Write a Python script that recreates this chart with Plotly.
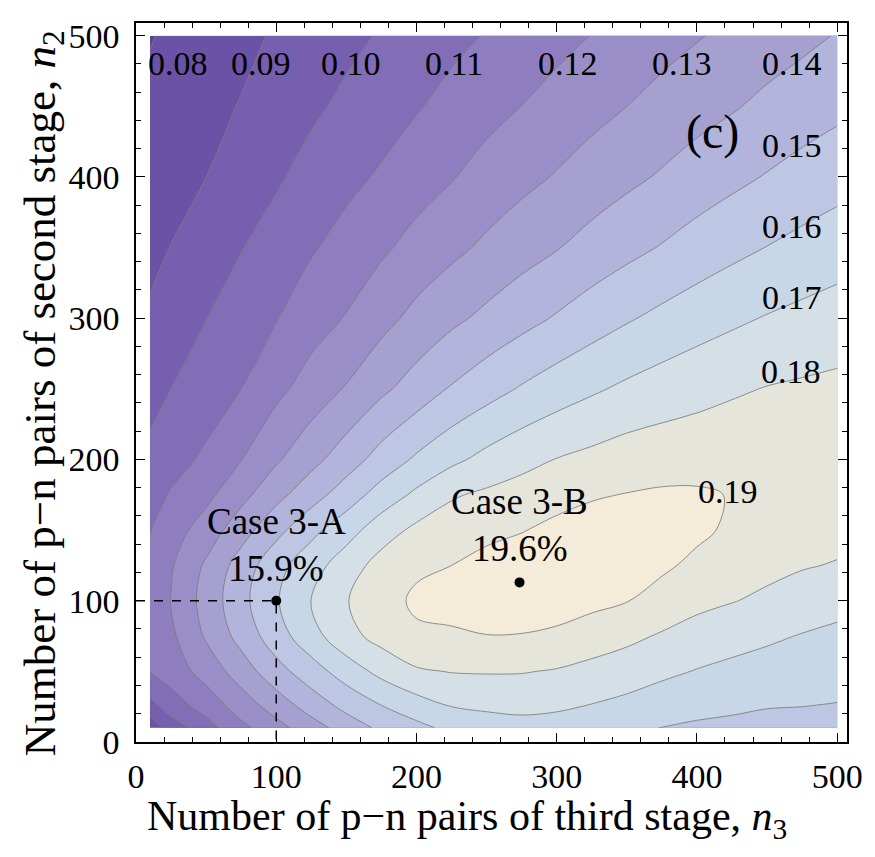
import plotly.graph_objects as go

# n3 (x) grid and n2 (y) grid; efficiency values
n3_vals = [10, 25, 50, 75, 100, 125, 150, 175, 200, 225, 250, 275, 300, 325, 350, 375, 400, 425, 450, 475, 500]
n2_vals = [10, 25, 50, 75, 100, 125, 150, 175, 200, 250, 300, 350, 400, 450, 500]

# efficiency columns (one per n3 value), ordered like n2_vals
eff_n3_10  = [0.083, 0.096, 0.1105, 0.1122, 0.113, 0.1118, 0.1097, 0.1062, 0.1025, 0.0967, 0.0913, 0.0875, 0.0845, 0.082, 0.0795]
eff_n3_25  = [0.094, 0.105, 0.1145, 0.118, 0.1203, 0.119, 0.1155, 0.1108, 0.1065, 0.100, 0.095, 0.0902, 0.0867, 0.0838, 0.0815]
eff_n3_50  = [0.106, 0.1138, 0.1239, 0.1312, 0.1337, 0.1315, 0.1244, 0.1174, 0.1116, 0.1053, 0.0998, 0.0948, 0.0900, 0.0872, 0.0845]
eff_n3_75  = [0.1174, 0.1245, 0.1348, 0.1435, 0.147, 0.1444, 0.1358, 0.1269, 0.1198, 0.110, 0.1048, 0.0996, 0.0946, 0.0905, 0.0876]
eff_n3_100 = [0.1264, 0.1341, 0.1463, 0.1555, 0.159, 0.1566, 0.147, 0.137, 0.1287, 0.1174, 0.1095, 0.104, 0.0988, 0.0953, 0.091]
eff_n3_125 = [0.1355, 0.1441, 0.1556, 0.1663, 0.1705, 0.1658, 0.1573, 0.1458, 0.137, 0.1242, 0.1157, 0.109, 0.1033, 0.0983, 0.0943]
eff_n3_150 = [0.1445, 0.1526, 0.1647, 0.1767, 0.1795, 0.1753, 0.1658, 0.155, 0.1452, 0.1308, 0.1206, 0.1136, 0.1074, 0.102, 0.0976]
eff_n3_175 = [0.152, 0.1595, 0.1729, 0.1835, 0.1865, 0.1837, 0.1755, 0.1641, 0.154, 0.138, 0.1268, 0.1184, 0.1112, 0.1055, 0.1008]
eff_n3_200 = [0.1572, 0.1654, 0.1788, 0.1885, 0.1915, 0.1885, 0.1822, 0.172, 0.1615, 0.1443, 0.1328, 0.1232, 0.1157, 0.1092, 0.104]
eff_n3_225 = [0.1625, 0.170, 0.1804, 0.1888, 0.193, 0.190, 0.1848, 0.179, 0.1677, 0.1509, 0.1378, 0.1276, 0.1194, 0.1131, 0.1074]
eff_n3_250 = [0.1655, 0.1714, 0.1807, 0.1898, 0.1945, 0.1938, 0.1869, 0.1817, 0.1729, 0.1561, 0.1423, 0.1318, 0.1238, 0.1167, 0.1106]
eff_n3_275 = [0.1665, 0.1723, 0.1805, 0.1896, 0.195, 0.1955, 0.1895, 0.1839, 0.1771, 0.1609, 0.1467, 0.1359, 0.1273, 0.1201, 0.1138]
eff_n3_300 = [0.166, 0.1713, 0.1793, 0.1882, 0.1945, 0.1955, 0.1925, 0.1865, 0.1803, 0.1651, 0.1509, 0.1395, 0.1307, 0.1236, 0.117]
eff_n3_325 = [0.164, 0.1694, 0.177, 0.1853, 0.1925, 0.195, 0.1935, 0.1892, 0.1826, 0.1686, 0.1552, 0.1435, 0.1345, 0.1268, 0.1202]
eff_n3_350 = [0.162, 0.1672, 0.1749, 0.1823, 0.1903, 0.1932, 0.1928, 0.1903, 0.1849, 0.1718, 0.159, 0.1472, 0.1378, 0.130, 0.1231]
eff_n3_375 = [0.1598, 0.1644, 0.1721, 0.179, 0.1866, 0.1915, 0.1935, 0.1912, 0.1859, 0.1745, 0.1624, 0.1506, 0.141, 0.1334, 0.1263]
eff_n3_400 = [0.1585, 0.1627, 0.1695, 0.1764, 0.1824, 0.188, 0.1918, 0.1912, 0.1862, 0.1768, 0.1655, 0.1542, 0.1445, 0.1364, 0.1293]
eff_n3_425 = [0.1578, 0.1615, 0.1675, 0.1739, 0.1804, 0.1852, 0.1885, 0.1896, 0.1872, 0.1787, 0.1682, 0.1574, 0.1476, 0.1391, 0.1321]
eff_n3_450 = [0.1555, 0.1605, 0.166, 0.1716, 0.1782, 0.1825, 0.1865, 0.1878, 0.1865, 0.1804, 0.1706, 0.1602, 0.1506, 0.1423, 0.135]
eff_n3_475 = [0.1548, 0.16, 0.1647, 0.1695, 0.1756, 0.1807, 0.1843, 0.1862, 0.1858, 0.1814, 0.1726, 0.1629, 0.1536, 0.145, 0.1377]
eff_n3_500 = [0.1545, 0.1595, 0.1637, 0.168, 0.1731, 0.1794, 0.183, 0.1852, 0.1858, 0.1823, 0.1744, 0.1653, 0.1562, 0.1476, 0.1405]

columns = [eff_n3_10, eff_n3_25, eff_n3_50, eff_n3_75, eff_n3_100, eff_n3_125, eff_n3_150,
           eff_n3_175, eff_n3_200, eff_n3_225, eff_n3_250, eff_n3_275, eff_n3_300, eff_n3_325,
           eff_n3_350, eff_n3_375, eff_n3_400, eff_n3_425, eff_n3_450, eff_n3_475, eff_n3_500]
z = [[col[i] for col in columns] for i in range(len(n2_vals))]

# contour level labels (text, x, y)
level_labels = ["0.08", "0.09", "0.10", "0.11", "0.12", "0.13", "0.14", "0.15", "0.16", "0.17", "0.18", "0.19"]
level_label_x = [30, 89, 153.5, 227, 308, 389.5, 468, 468, 468, 468, 467, 422]
level_label_y = [480, 480, 480, 480, 480, 480, 480, 422.5, 365, 315, 262.5, 177]

# marked cases
case_names = ["Case 3-A", "Case 3-B"]
case_eff = ["15.9%", "19.6%"]
case_n3 = [100, 273.5]
case_n2 = [100, 113]

band_colors = ["#5a3f9a", "#6a52a6", "#765faf", "#826db7", "#8e7dbf", "#9a8ec8",
               "#a6a0d0", "#b2b4dc", "#bdc7e4", "#c8d7e8", "#d5e0e6", "#e6e5dc", "#f4ebd9"]
n = len(band_colors)
colorscale = [[k / (n - 1), c] for k, c in enumerate(band_colors)]

FONT = "Liberation Serif"

fig = go.Figure()
fig.add_trace(go.Contour(
    x=n3_vals, y=n2_vals, z=z,
    contours=dict(start=0.08, end=0.19, size=0.01, coloring="fill", showlabels=False),
    colorscale=colorscale, showscale=False,
    line=dict(color="rgba(125,125,125,0.85)", width=1, smoothing=1.0),
    hoverinfo="skip",
))

# dashed guides to Case 3-A
fig.add_trace(go.Scatter(x=[0, case_n3[0], case_n3[0]], y=[case_n2[0], case_n2[0], 0],
                         mode="lines", line=dict(color="black", width=1.5, dash="dash"),
                         hoverinfo="skip", showlegend=False))
fig.add_trace(go.Scatter(x=case_n3, y=case_n2, mode="markers",
                         marker=dict(color="black", size=10), hoverinfo="skip", showlegend=False))

annotations = []
for t, xx, yy in zip(level_labels, level_label_x, level_label_y):
    annotations.append(dict(x=xx, y=yy, xref="x", yref="y", text=t, showarrow=False,
                            font=dict(family=FONT, size=34, color="black")))
case_text_y = [(156, 123), (170, 137)]
for name, eff, xx, (ty1, ty2) in zip(case_names, case_eff, case_n3, case_text_y):
    annotations.append(dict(x=xx, y=ty1, xref="x", yref="y", text=name, showarrow=False,
                            font=dict(family=FONT, size=37, color="black")))
    annotations.append(dict(x=xx, y=ty2, xref="x", yref="y", text=eff, showarrow=False,
                            font=dict(family=FONT, size=37, color="black")))
annotations.append(dict(x=411, y=432, xref="x", yref="y", text="(c)", showarrow=False,
                        font=dict(family=FONT, size=48, color="black")))
# axis titles
annotations.append(dict(x=0.466, y=-0.107, xref="paper", yref="paper",
                        xanchor="center", yanchor="middle",
                        text="Number of p\u2212n pairs of third stage, <i>n</i><sub>3</sub>",
                        showarrow=False, font=dict(family=FONT, size=42, color="black")))
annotations.append(dict(x=-0.131, y=0.485, xref="paper", yref="paper", textangle=-90,
                        xanchor="center", yanchor="middle",
                        text="Number of p\u2212n pairs of second stage, <i>n</i><sub>2</sub>",
                        showarrow=False, font=dict(family=FONT, size=45, color="black")))

axis_common = dict(
    showgrid=False, zeroline=False, showline=True, linecolor="black", linewidth=1.5,
    mirror="allticks", ticks="inside", ticklen=9, tickwidth=1.3, tickcolor="black",
    tickmode="array", tickvals=[0, 100, 200, 300, 400, 500],
    minor=dict(dtick=20, ticks="inside", ticklen=5, tickwidth=1, tickcolor="black", showgrid=False),
    tickfont=dict(family=FONT, size=34, color="black"),
)
fig.update_layout(
    width=875, height=857,
    margin=dict(l=136, r=22, t=23, b=115),
    paper_bgcolor="white", plot_bgcolor="white",
    xaxis=dict(range=[0, 507], ticklabelstandoff=3, **axis_common),
    yaxis=dict(range=[0, 509], ticklabelstandoff=8, **axis_common),
    annotations=annotations,
    showlegend=False,
)
fig.write_html("out.html")
